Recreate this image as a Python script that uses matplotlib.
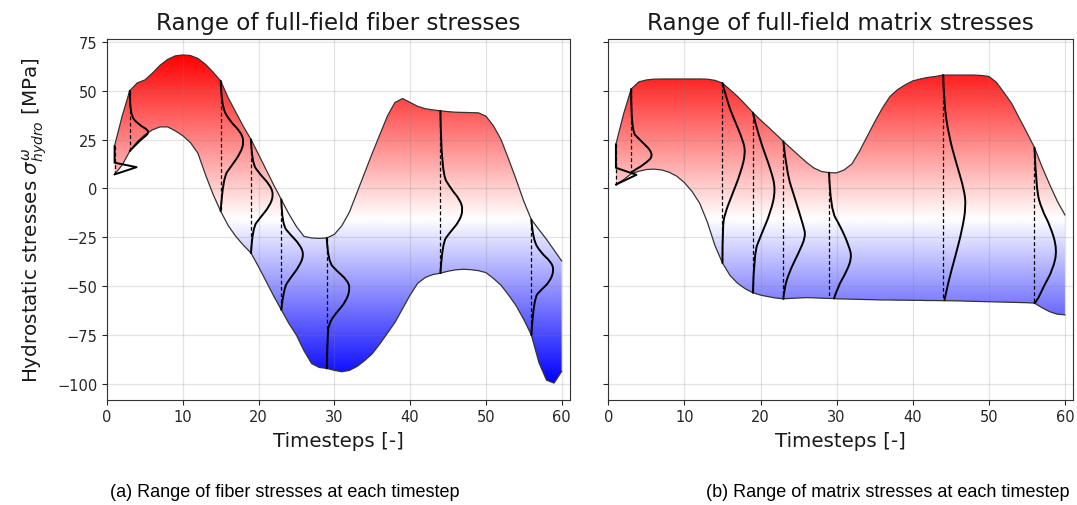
import numpy as np
import matplotlib
matplotlib.use("Agg")
import matplotlib.pyplot as plt
from matplotlib.path import Path
from matplotlib.patches import PathPatch

# ---------------- data ----------------
timesteps = list(range(1, 61))

fiber_max = [21.8, 37, 50, 54, 55.5, 59, 63, 66, 67.8, 68.3,
             68, 66.5, 63.5, 59.5, 55, 46.3, 39, 31.7, 25.1, 17.4,
             9.6, 1.8, -5.6, -13, -19.5, -24.5, -25.3, -25.5, -25.3, -23.5,
             -19, -12, -2, 8, 18, 27.5, 37, 44, 46, 44,
             42, 40.8, 40.2, 39.7, 39.3, 39, 38.9, 38.8, 38.7, 37,
             32, 25, 15, 4.5, -6.5, -15.9, -21, -26, -31.5, -37]
fiber_min = [7.2, 12, 19, 24, 27.5, 30, 31.5, 31.5, 29.5, 27,
             23.5, 18, 7, -3, -11.6, -19, -24.5, -29, -33, -40,
             -47.5, -55, -62, -69, -75, -83, -89.5, -91.5, -92, -93,
             -93.7, -93, -91, -88, -84.5, -79.5, -74, -68.5, -61.5, -54.5,
             -48.5, -45.5, -44, -43.3, -42.3, -41.6, -41.3, -41.5, -42, -43,
             -46, -49.5, -54.5, -60, -67, -74.9, -89, -98, -99.5, -93.5]

matrix_max = [22.6, 38, 50.8, 54.5, 55.5, 55.9, 56, 56, 56, 56,
              56, 56, 55.9, 55.3, 53.9, 50.5, 47, 43, 38.8, 35,
              31.5, 27.8, 24.1, 20.5, 17, 13.5, 10.5, 8.7, 8.1, 8,
              9.5, 12.5, 19, 26.5, 34, 41, 47, 50.5, 53, 55,
              56, 56.8, 57.3, 58, 58, 58, 58, 58, 57.8, 57.3,
              54.3, 49, 43.5, 36, 28.6, 20.9, 11, 2, -6.5, -13.5]
matrix_min = [2, 4.5, 7.5, 8.8, 9.7, 9.9, 9.5, 8.3, 6.3, 3,
              -1.5, -7.5, -17, -29, -38.1, -44.5, -48.5, -51.3, -53.3, -54.5,
              -55.3, -56, -56.4, -56.2, -56, -55.8, -55.9, -56.1, -56.2, -56.4,
              -56.5, -56.6, -56.7, -56.8, -56.9, -57, -57, -57.1, -57.1, -57.2,
              -57.2, -57.3, -57.3, -57.4, -57.4, -57.5, -57.6, -57.7, -57.8, -57.9,
              -58, -58.1, -58.2, -58.3, -58.4, -58.6, -61, -63, -64.3, -64.6]

violin_steps = [1, 3, 15, 19, 23, 29, 44, 56]

fiber_violin_y = [
    [21.8, 13.2, 10.9, 7.2],
    [49.9, 38, 32.8, 29.1, 25.1, 20, 19.2],
    [55.1, 42.2, 34.5, 29.4, 24.3, 18.3, 11.4, 5.5, -11.6],
    [25.1, 13.2, 7.2, 2.1, -3.1, -9.1, -15, -20.2, -33],
    [-5.6, -18.5, -23.6, -28.7, -33.9, -39.9, -45.8, -51, -62.1],
    [-25.3, -37.3, -42.4, -46.7, -51, -57.8, -63.8, -68.9, -74.9, -92],
    [39.7, 8.1, -0.5, -5.6, -10.8, -16.8, -22.7, -27.9, -43.3],
    [-15.9, -26.2, -33, -37.3, -41.6, -47.6, -51.8, -56.1, -74.9],
]
fiber_violin_w = [
    [0, 0, 2.9, 0],
    [0, 0, 1.1, 2.8, 1.5, 0.2, 0],
    [0, 0.1, 1.2, 2.55, 3.1, 2.65, 1.4, 0.3, 0],
    [0, 0.1, 1.2, 2.45, 3.0, 2.45, 1.2, 0.2, 0],
    [0, 0.1, 1.2, 2.45, 3.0, 2.35, 1.2, 0.3, 0],
    [0, 0.15, 1.4, 2.65, 3.1, 2.55, 1.2, 0.3, 0.1, 0],
    [0, 0.1, 1.45, 2.55, 3.0, 2.5, 1.2, 0.25, 0],
    [0, 0.2, 1.3, 2.55, 3.0, 2.45, 1.3, 0.3, 0],
]

matrix_violin_y = [
    [22.6, 10.6, 7.0, 2.0],
    [50.8, 29.4, 25.1, 17.4, 12.3, 8.9, 8.0],
    [53.9, 44, 35.4, 25.1, 18.3, 8.1, -3.9, -12.5, -19.3, -38.1],
    [38.8, 33.7, 21.7, 9.7, -0.5, -12, -24.5, -33, -53.3],
    [24.1, 8.1, -4.8, -19.3, -24.5, -33, -43.3, -51.8, -56.4],
    [8.1, -10.8, -19.3, -29.6, -35.6, -43.3, -50.1, -56.2],
    [58, 44, 26.8, 11.4, -0.5, -9.1, -21, -34.7, -46.7, -57],
    [20.9, -0.5, -10.8, -19.3, -31.3, -41.6, -50.1, -57.8, -58.6],
]
matrix_violin_w = [
    [0, 0, 2.7, 0],
    [0, 0, 1.1, 3.1, 1.75, 0.2, 0],
    [0, 0.66, 1.53, 2.65, 3.05, 2.4, 1.2, 0.35, 0, 0],
    [0, 0.3, 1.2, 2.35, 3.0, 2.35, 1.0, 0.15, 0],
    [0, 0.44, 1.5, 2.65, 2.95, 2.0, 0.7, 0.1, 0],
    [0, 0.2, 1.5, 2.65, 3.0, 2.2, 1.18, 0.66],
    [0, 0.1, 0.74, 1.84, 2.75, 3.0, 2.5, 1.6, 0.74, 0.17],
    [0, 0.22, 0.96, 2.1, 3.0, 2.4, 1.2, 0.3, 0],
]

titles = ["Range of full-field fiber stresses", "Range of full-field matrix stresses"]
captions = ["(a) Range of fiber stresses at each timestep",
            "(b) Range of matrix stresses at each timestep"]
x_ticks = [0, 10, 20, 30, 40, 50, 60]
y_ticks = [-100, -75, -50, -25, 0, 25, 50, 75]
xlabel = "Timesteps [-]"
ylabel = r"Hydrostatic stresses $\sigma^{\omega}_{hydro}$ [MPa]"

# ---------------- figure ----------------
W, H = 1077, 506
fig = plt.figure(figsize=(W / 100, H / 100), dpi=100)
ax1 = fig.add_axes([107 / W, (H - 400.5) / H, 463 / W, 361 / H])
ax2 = fig.add_axes([608.3 / W, (H - 400.5) / H, 465 / W, 361 / H], sharey=ax1)

vmin = min(min(fiber_min), min(matrix_min))
vmax = max(max(fiber_max), max(matrix_max))
ramp = np.linspace(0, 1, 256).reshape(-1, 1)


def smooth_path(xs, ys):
    """Quadratic B-spline style path through the read points (drawn by matplotlib)."""
    pts = list(zip(xs, ys))
    n = len(pts)
    if n <= 4:
        return Path(pts)
    verts = [pts[0]]
    codes = [Path.MOVETO]
    for i in range(1, n - 1):
        c = pts[i]
        if i < n - 2:
            e = ((pts[i][0] + pts[i + 1][0]) / 2, (pts[i][1] + pts[i + 1][1]) / 2)
        else:
            e = pts[-1]
        verts += [c, e]
        codes += [Path.CURVE3, Path.CURVE3]
    return Path(verts, codes)


def panel(ax, mx, mn, vys, vws, title):
    coll = ax.fill_between(timesteps, mn, mx, facecolor="none", edgecolor="none")
    im = ax.imshow(ramp, aspect="auto", cmap="bwr", origin="lower",
                   extent=[0, 61.1, vmin, vmax], interpolation="bilinear", zorder=0)
    im.set_clip_path(coll.get_paths()[0], ax.transData)
    ax.plot(timesteps, mx, color="0.2", lw=0.9, zorder=2)
    ax.plot(timesteps, mn, color="0.2", lw=0.9, zorder=2)
    for t, ys, ws in zip(violin_steps, vys, vws):
        ax.plot([t, t], [ys[0], ys[-1]], ls=(0, (3, 2)), color="k", lw=0.9, zorder=3)
        p = smooth_path([t + w for w in ws], ys)
        ax.add_patch(PathPatch(p, fill=False, edgecolor="k", lw=1.4, zorder=4,
                               joinstyle="round", capstyle="round"))
    ax.set_xlim(0, 61.1)
    ax.set_ylim(-107.9, 76.7)
    ax.set_xticks(x_ticks)
    ax.set_yticks(y_ticks)
    ax.grid(True, color="gray", alpha=0.22, lw=0.9)
    ax.tick_params(labelsize=10.5, colors="0.15")
    ax.set_title(title, fontsize=16.6, pad=7, color="0.1")
    ax.set_xlabel(xlabel, fontsize=14.3, color="0.1", labelpad=5)
    for s in ax.spines.values():
        s.set_color("0.2")


panel(ax1, fiber_max, fiber_min, fiber_violin_y, fiber_violin_w, titles[0])
panel(ax2, matrix_max, matrix_min, matrix_violin_y, matrix_violin_w, titles[1])
plt.setp(ax2.get_yticklabels(), visible=False)
ax1.set_ylabel(ylabel, fontsize=14.3, color="0.1", labelpad=6)

fig.text(110 / W, 1 - 493 / H, captions[0], ha="left", va="center",
         fontsize=13, family="Liberation Sans")
fig.text(1070 / W, 1 - 493 / H, captions[1], ha="right", va="center",
         fontsize=13, family="Liberation Sans")

fig.savefig("out.png", dpi=100)
